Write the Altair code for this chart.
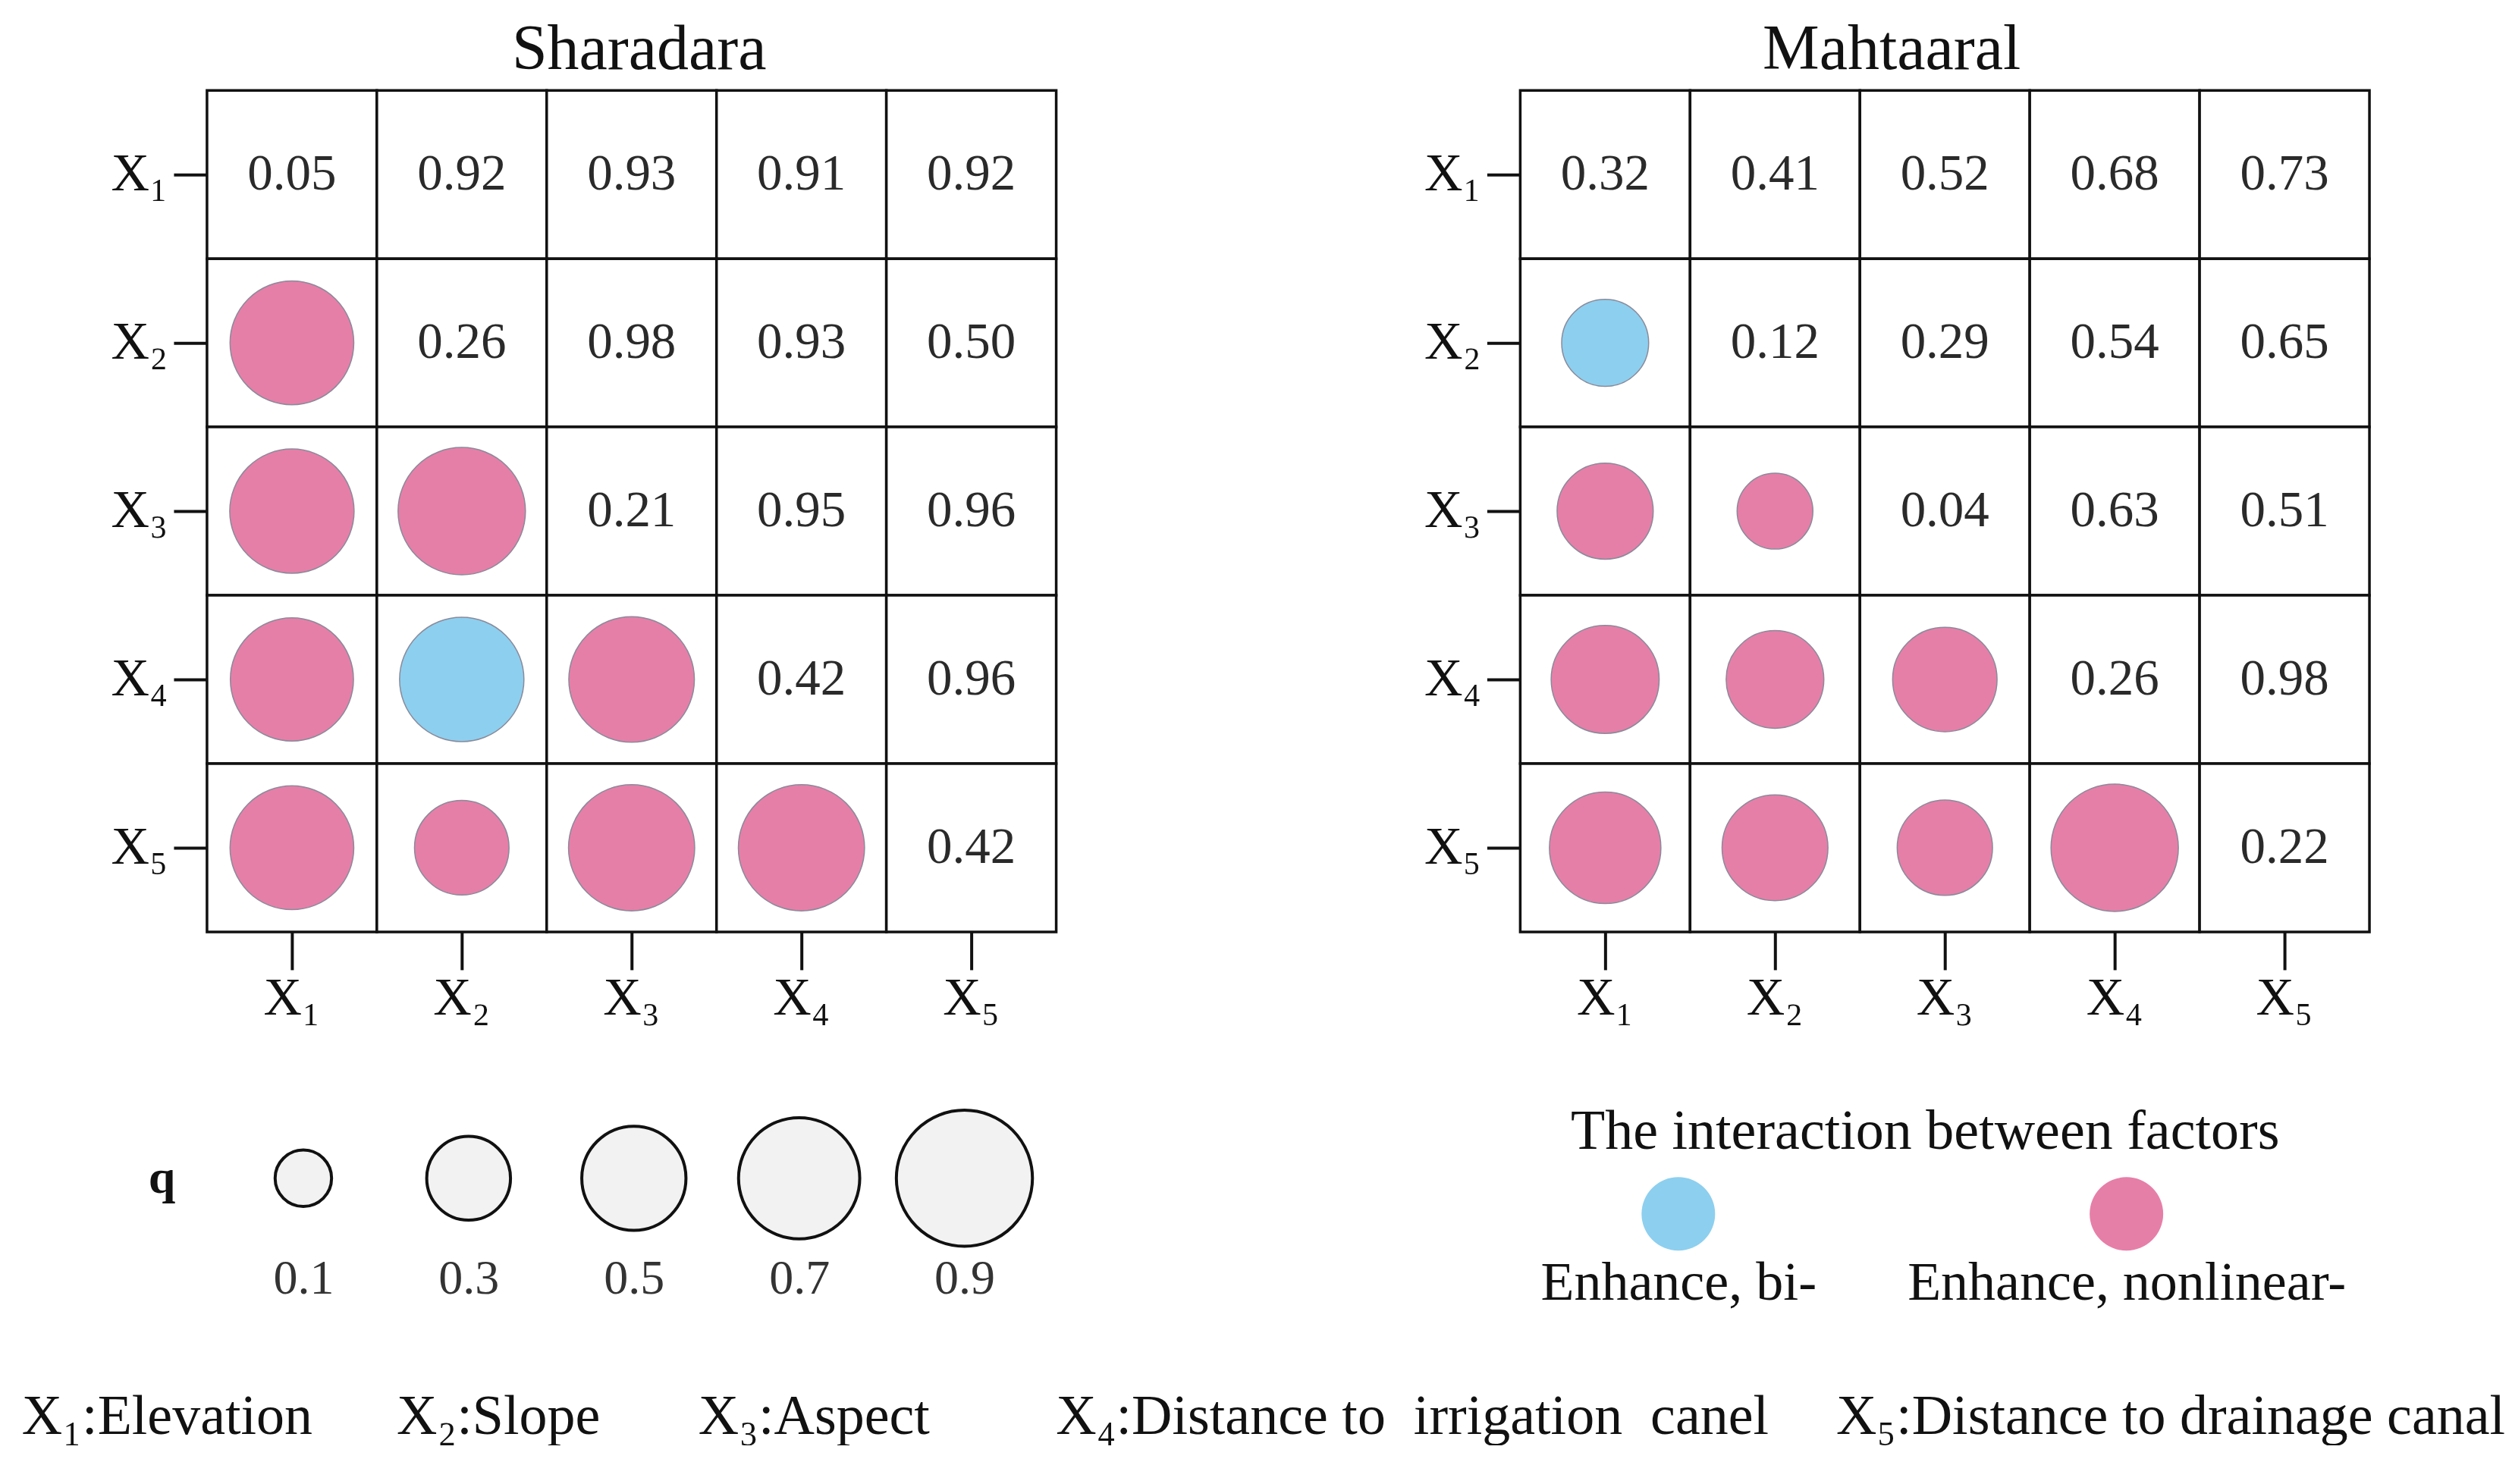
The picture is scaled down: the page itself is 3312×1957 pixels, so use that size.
import altair as alt
import pandas as pd

NBSP = "\u00a0"
THIN = "\u2009"
FONT = "Liberation Serif"

# ---------------- data ----------------
factor_labels = ["X₁", "X₂", "X₃", "X₄", "X₅"]
factor_names = ["Elevation", "Slope", "Aspect",
                "Distance to" + NBSP * 2 + "irrigation" + NBSP * 2 + "canel",
                "Distance to drainage canal"]

# q of each factor pair (row i, column j >= i); the diagonal is the single factor q
sharadara_row1 = [0.05, 0.92, 0.93, 0.91, 0.92]
sharadara_row2 = [0.26, 0.98, 0.93, 0.50]
sharadara_row3 = [0.21, 0.95, 0.96]
sharadara_row4 = [0.42, 0.96]
sharadara_row5 = [0.42]

mahtaaral_row1 = [0.32, 0.41, 0.52, 0.68, 0.73]
mahtaaral_row2 = [0.12, 0.29, 0.54, 0.65]
mahtaaral_row3 = [0.04, 0.63, 0.51]
mahtaaral_row4 = [0.26, 0.98]
mahtaaral_row5 = [0.22]

interaction_types = ["Enhance, bi-", "Enhance, nonlinear-"]
# interaction type of pairs (X2,X1),(X3,X1),(X3,X2),(X4,X1),(X4,X2),(X4,X3),(X5,X1),(X5,X2),(X5,X3),(X5,X4)
sharadara_types = ["Enhance, nonlinear-", "Enhance, nonlinear-", "Enhance, nonlinear-",
                   "Enhance, nonlinear-", "Enhance, bi-", "Enhance, nonlinear-",
                   "Enhance, nonlinear-", "Enhance, nonlinear-", "Enhance, nonlinear-",
                   "Enhance, nonlinear-"]
mahtaaral_types = ["Enhance, bi-", "Enhance, nonlinear-", "Enhance, nonlinear-",
                   "Enhance, nonlinear-", "Enhance, nonlinear-", "Enhance, nonlinear-",
                   "Enhance, nonlinear-", "Enhance, nonlinear-", "Enhance, nonlinear-",
                   "Enhance, nonlinear-"]

legend_q_labels = ["0.1", "0.3", "0.5", "0.7", "0.9"]
legend_q_values = [0.1, 0.3, 0.5, 0.7, 0.9]

type_colors = ["#8DCFEF", "#E67FA8"]

NO_VIEW = alt.ViewBackground(stroke="transparent", strokeWidth=0, strokeOpacity=0,
                             fill="transparent", fillOpacity=0)


def build_table(rows, types):
    n = len(factor_labels)
    upper = {}
    for i, r in enumerate(rows):
        for k, v in enumerate(r):
            upper[(i, i + k)] = v
    recs = []
    t = iter(types)
    pair_type = {}
    for i in range(n):
        for j in range(i):
            pair_type[(i, j)] = next(t)
    for i in range(n):
        for j in range(n):
            if j >= i:
                recs.append({"row": factor_labels[i], "col": factor_labels[j],
                             "q": upper[(i, j)], "kind": "num", "itype": ""})
            else:
                recs.append({"row": factor_labels[i], "col": factor_labels[j],
                             "q": upper[(j, i)], "kind": "circ", "itype": pair_type[(i, j)]})
    return pd.DataFrame(recs)


color_scale = alt.Scale(domain=interaction_types, range=type_colors)
size_scale = alt.Scale(domain=[0, 1], range=[2341, 28753])


def panel(title, rows, types, title_dx):
    df = build_table(rows, types)
    x = alt.X("col:N", sort=factor_labels,
              scale=alt.Scale(domain=factor_labels, paddingInner=0, paddingOuter=0),
              axis=alt.Axis(orient="bottom", labelAngle=0, tickSize=50, tickWidth=4,
                            tickColor="#111", domain=False, labelFontSize=70,
                            labelFont=FONT, labelColor="#111", labelPadding=4,
                            title=None, grid=False))
    y = alt.Y("row:N", sort=factor_labels,
              scale=alt.Scale(domain=factor_labels, paddingInner=0, paddingOuter=0),
              axis=alt.Axis(orient="left", tickSize=44, tickWidth=4, tickColor="#111",
                            domain=False, labelFontSize=70, labelFont=FONT,
                            labelColor="#111", labelPadding=8, title=None, grid=False,
                            minExtent=236))
    base = alt.Chart(df).encode(x=x, y=y)
    cells = base.mark_rect(fill="white", stroke="#111", strokeWidth=3.5)
    circles = base.transform_filter("datum.kind == 'circ'").mark_circle(
        opacity=1, stroke="#8a8a9a", strokeWidth=1.5).encode(
        size=alt.Size("q:Q", scale=size_scale, legend=None),
        color=alt.Color("itype:N", scale=color_scale, legend=None))
    nums = base.transform_filter("datum.kind == 'num'").mark_text(
        fontSize=67, font=FONT, color="#2a2a2a").encode(
        text=alt.Text("q:Q", format=".2f"))
    return alt.layer(cells, circles, nums).properties(
        width=1120, height=1110, view=NO_VIEW,
        title=alt.TitleParams(title, fontSize=84, font=FONT, fontWeight="normal",
                              color="#111", anchor="middle", dx=title_dx, offset=9))


sh = panel("Sharadara",
           [sharadara_row1, sharadara_row2, sharadara_row3, sharadara_row4, sharadara_row5],
           sharadara_types, 10)
mh = panel("Mahtaaral",
           [mahtaaral_row1, mahtaaral_row2, mahtaaral_row3, mahtaaral_row4, mahtaaral_row5],
           mahtaaral_types, -70)

row1 = alt.hconcat(sh, mh, spacing=374)

# ---- q size legend ----
qdf = pd.DataFrame({"label": legend_q_labels, "qv": legend_q_values})
qleg = alt.Chart(qdf).transform_calculate(row="'q'").mark_circle(
    fill="#f2f2f2", stroke="#111", strokeWidth=4, opacity=1).encode(
    x=alt.X("label:N", sort=legend_q_labels,
            scale=alt.Scale(type="point", domain=legend_q_labels, padding=0.583),
            axis=alt.Axis(orient="bottom", ticks=False, domain=False, labelAngle=0,
                          labelFontSize=64, labelFont=FONT, labelColor="#333",
                          labelPadding=96, title=None, grid=False, labelLimit=1000)),
    y=alt.Y("row:N", scale=alt.Scale(domain=["q"]),
            axis=alt.Axis(orient="left", labels=False, ticks=False, domain=False,
                          grid=False, title="q", titleAngle=0, titleFontSize=64,
                          titleFont=FONT, titleFontWeight="bold", titleColor="#111",
                          titlePadding=42, titleAlign="right", titleBaseline="middle",
                          minExtent=0)),
    size=alt.Size("qv:Q", scale=alt.Scale(domain=[0, 1], range=[2212, 35547]), legend=None),
).properties(width=1126, height=10, view=NO_VIEW)

# ---- interaction type legend ----
cdf = pd.DataFrame({"itype": interaction_types})
cleg = alt.Chart(cdf).mark_circle(opacity=1, size=9409).encode(
    x=alt.X("itype:N", sort=interaction_types,
            scale=alt.Scale(type="point", domain=interaction_types, padding=0.5),
            axis=alt.Axis(orient="bottom", ticks=False, domain=False, labelAngle=0,
                          labelFontSize=72, labelFont=FONT, labelColor="#111",
                          labelPadding=4, title=None, grid=False, labelLimit=1000)),
    color=alt.Color("itype:N", scale=color_scale, legend=None),
).properties(width=1182, height=104, view=NO_VIEW,
             title=alt.TitleParams("The interaction between factors", fontSize=74,
                                   font=FONT, fontWeight="normal", color="#111",
                                   anchor="middle", dx=30, offset=18))

row2 = alt.hconcat(qleg, cleg, spacing=519)

# ---- footer ----
gaps = [NBSP * 6, NBSP * 7, NBSP * 9, NBSP * 4 + THIN]
parts = [f"{lab}:{name}" for lab, name in zip(factor_labels, factor_names)]
footer_text = parts[0]
for g, p in zip(gaps, parts[1:]):
    footer_text += g + p
fdf = pd.DataFrame({"t": [footer_text]})
footer = alt.Chart(fdf).mark_text(fontSize=74, font=FONT, color="#111",
                                  align="center", baseline="middle").encode(
    text="t:N").properties(width=2787, height=24, view=NO_VIEW)

chart = alt.vconcat(row1, row2, footer, spacing=104).properties(
    padding={"left": 20, "top": 15, "right": 0, "bottom": 0}
).resolve_scale(size="independent").configure_view(
    stroke="transparent", strokeWidth=0).configure_axis(
    gridOpacity=0).configure(background="white")

chart.save("out.html", embed_options={"renderer": "svg", "actions": False})
